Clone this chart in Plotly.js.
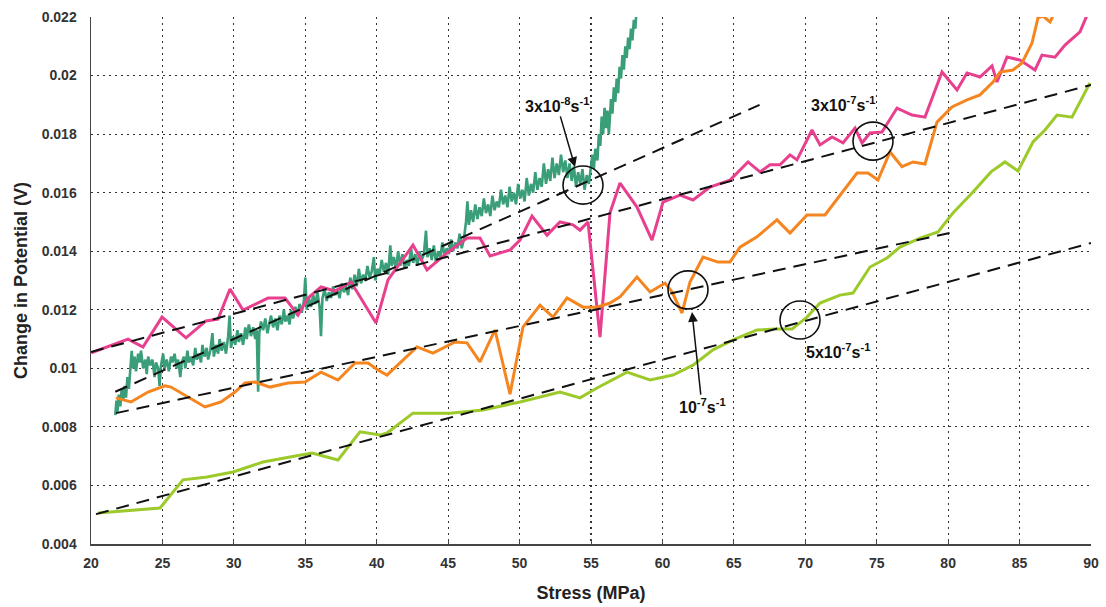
<!DOCTYPE html>
<html>
<head>
<meta charset="utf-8">
<script src="https://cdn.plot.ly/plotly-3.0.1.min.js"></script>
<style>html,body{margin:0;padding:0;background:#fff;}#chart{width:1106px;height:607px;}</style>
</head>
<body>
<div id="chart"></div>
<script>
// ---- data ----
const pinkX = [20.02,22.59,23.64,24.97,26.65,28.05,28.89,29.73,30.64,32.39,33.58,34.49,35.19,36.10,37.08,38.20,39.95,40.79,42.54,43.52,44.92,46.32,47.23,47.93,49.33,50.03,50.87,51.92,52.83,53.74,54.23,54.79,55.63,56.33,57.03,58.22,59.27,60.04,61.23,62.14,63.33,64.73,65.99,66.83,67.53,68.23,68.93,69.42,70.47,71.03,71.87,72.64,73.48,73.97,74.53,75.37,76.42,77.47,78.38,79.57,80.62,81.32,82.23,83.07,83.42,84.12,85.03,86.08,86.57,87.48,88.18,89.23,89.79];
const pinkY = [0.01053,0.01100,0.01073,0.01175,0.01104,0.01162,0.01168,0.01271,0.01199,0.01240,0.01240,0.01182,0.01240,0.01278,0.01264,0.01295,0.01155,0.01302,0.01421,0.01336,0.01394,0.01445,0.01445,0.01384,0.01404,0.01438,0.01520,0.01455,0.01500,0.01490,0.01472,0.01500,0.01107,0.01531,0.01633,0.01551,0.01438,0.01568,0.01592,0.01575,0.01619,0.01643,0.01705,0.01671,0.01695,0.01695,0.01729,0.01712,0.01814,0.01763,0.01790,0.01770,0.01821,0.01770,0.01804,0.01807,0.01889,0.01865,0.01858,0.02012,0.01951,0.02009,0.01995,0.02033,0.01978,0.02063,0.02053,0.02019,0.02070,0.02063,0.02104,0.02149,0.02214];

const orangeX = [21.75,22.80,23.99,25.18,25.60,26.79,27.98,29.10,30.08,30.78,31.48,32.53,33.79,34.98,36.10,37.29,38.48,39.39,40.09,40.72,41.63,42.82,43.94,45.48,46.32,47.23,48.28,49.33,50.24,51.43,52.34,53.32,54.44,55.42,56.33,57.03,58.22,59.13,60.18,60.67,61.37,61.93,62.84,63.89,64.73,65.43,66.62,68.02,68.93,70.12,71.38,72.57,73.62,74.39,75.09,75.93,76.77,77.54,78.38,79.22,80.27,81.32,82.23,83.14,83.63,84.54,85.17,85.87,86.29,86.64,87.13,87.48];
const orangeY = [0.00899,0.00885,0.00919,0.00940,0.00936,0.00902,0.00868,0.00885,0.00919,0.00950,0.00953,0.00936,0.00950,0.00953,0.00987,0.00960,0.01018,0.01018,0.00994,0.00977,0.01018,0.01073,0.01052,0.01090,0.01087,0.01022,0.01131,0.00912,0.01141,0.01216,0.01175,0.01240,0.01209,0.01209,0.01223,0.01244,0.01312,0.01261,0.01291,0.01261,0.01189,0.01295,0.01380,0.01363,0.01363,0.01414,0.01449,0.01507,0.01462,0.01524,0.01524,0.01602,0.01667,0.01667,0.01643,0.01739,0.01689,0.01705,0.01698,0.01841,0.01893,0.01917,0.01934,0.01978,0.02012,0.02019,0.02043,0.02111,0.02197,0.02203,0.02183,0.02217];

const limeX = [20.49,24.83,26.44,28.12,29.94,32.04,33.93,35.47,37.29,38.83,40.23,40.72,42.54,43.94,45.13,47.44,50.03,52.83,54.23,55.42,57.52,59.13,60.74,62.14,63.54,64.94,66.62,67.88,69.07,70.12,71.03,72.43,73.34,74.53,75.72,76.63,78.03,79.29,80.34,81.74,83.00,83.98,84.89,85.94,86.78,87.62,88.67,89.93];
const limeY = [0.00506,0.00523,0.00619,0.00629,0.00646,0.00680,0.00697,0.00711,0.00687,0.00783,0.00772,0.00779,0.00847,0.00847,0.00847,0.00858,0.00885,0.00919,0.00899,0.00933,0.00987,0.00960,0.00977,0.01011,0.01063,0.01097,0.01131,0.01134,0.01134,0.01175,0.01223,0.01250,0.01257,0.01346,0.01377,0.01414,0.01445,0.01466,0.01531,0.01602,0.01671,0.01705,0.01674,0.01773,0.01814,0.01865,0.01858,0.01975];

const greenPts = [[21.7,.0084],[21.78,.0089],[21.85,.0085],[21.95,.0091],[22.05,.0087],[22.15,.0093],[22.25,.0089],[22.35,.0094],[22.45,.0090],[22.55,.0097],[22.65,.0093],[22.75,.0101],[22.85,.0106],[22.95,.0100],[23.05,.0104],[23.15,.0099],[23.3,.0105],[23.4,.0102],[23.5,.0106],[23.65,.0100],[23.8,.0103],[23.9,.0098],[24.0,.0104],[24.15,.0101],[24.3,.0103],[24.45,.0097],[24.55,.0102],[24.7,.0100],[24.8,.0094],[24.9,.0101],[25.05,.0105],[25.15,.0100],[25.3,.0103],[25.45,.0099],[25.6,.0104],[25.7,.0102],[25.85,.0105],[26.0,.0100],[26.1,.0103],[26.25,.0097],[26.35,.0102],[26.5,.0104],[26.6,.0100],[26.75,.0106],[26.85,.0102],[27.0,.0104],[27.15,.0101],[27.3,.0107],[27.4,.0103],[27.55,.0105],[27.7,.0102],[27.8,.0108],[27.95,.0104],[28.1,.0107],[28.2,.0103],[28.35,.0106],[28.5,.0112],[28.6,.0104],[28.75,.0108],[28.9,.0105],[29.0,.0110],[29.15,.0106],[29.3,.0109],[29.45,.0105],[29.6,.0111],[29.7,.0118],[29.8,.0107],[29.95,.0111],[30.1,.0108],[30.25,.0113],[30.35,.0109],[30.5,.0112],[30.65,.0108],[30.8,.0114],[30.9,.0110],[31.05,.0115],[31.2,.0111],[31.35,.0114],[31.5,.0110],[31.6,.0113],[31.7,.0092],[31.78,.0112],[31.9,.0116],[32.05,.0113],[32.2,.0117],[32.35,.0112],[32.5,.0115],[32.6,.0118],[32.75,.0114],[32.9,.0117],[33.05,.0113],[33.2,.0118],[33.35,.0115],[33.5,.0120],[33.6,.0116],[33.75,.0118],[33.9,.0115],[34.0,.0120],[34.15,.0117],[34.3,.0121],[34.45,.0118],[34.6,.0122],[34.75,.0119],[34.9,.0123],[35.0,.0131],[35.1,.0120],[35.25,.0124],[35.4,.0121],[35.55,.0125],[35.7,.0122],[35.85,.0126],[36.0,.0121],[36.1,.0111],[36.2,.0124],[36.35,.0127],[36.5,.0123],[36.65,.0126],[36.8,.0124],[36.95,.0128],[37.1,.0125],[37.25,.0127],[37.4,.0124],[37.55,.0129],[37.7,.0126],[37.85,.0128],[38.0,.0125],[38.15,.0131],[38.3,.0127],[38.45,.0132],[38.6,.0128],[38.75,.0134],[38.9,.0129],[39.05,.0132],[39.2,.0130],[39.35,.0135],[39.5,.0131],[39.65,.0133],[39.8,.0138],[39.9,.0130],[40.05,.0134],[40.2,.0132],[40.35,.0137],[40.5,.0133],[40.65,.0136],[40.8,.0132],[40.95,.0142],[41.05,.0135],[41.2,.0138],[41.35,.0134],[41.5,.0140],[41.65,.0135],[41.8,.0139],[41.95,.0134],[42.1,.0137],[42.25,.0135],[42.4,.0141],[42.55,.0136],[42.7,.0139],[42.85,.0135],[43.0,.0140],[43.15,.0137],[43.3,.0139],[43.45,.0147],[43.55,.0138],[43.7,.0141],[43.85,.0137],[44.0,.0142],[44.15,.0136],[44.3,.0140],[44.45,.0138],[44.6,.0143],[44.75,.0138],[44.9,.0141],[45.05,.0139],[45.2,.0144],[45.35,.0140],[45.5,.0143],[45.65,.0141],[45.8,.0146],[45.95,.0141],[46.1,.0144],[46.25,.0150],[46.35,.0157],[46.45,.0149],[46.6,.0154],[46.75,.0150],[46.9,.0156],[47.05,.0151],[47.2,.0155],[47.35,.0152],[47.5,.0158],[47.65,.0153],[47.8,.0156],[47.95,.0152],[48.1,.0159],[48.25,.0154],[48.4,.0157],[48.55,.0155],[48.7,.0161],[48.85,.0156],[49.0,.0159],[49.15,.0155],[49.3,.0162],[49.45,.0157],[49.6,.0160],[49.75,.0156],[49.9,.0163],[50.05,.0158],[50.2,.0161],[50.35,.0157],[50.5,.0165],[50.65,.0159],[50.8,.0163],[50.95,.0160],[51.1,.0167],[51.25,.0161],[51.4,.0165],[51.55,.0162],[51.7,.0170],[51.85,.0163],[52.0,.0168],[52.15,.0164],[52.3,.0172],[52.45,.0165],[52.6,.0170],[52.75,.0166],[52.9,.0173],[53.05,.0167],[53.2,.0171],[53.35,.0165],[53.5,.0170],[53.65,.0164],[53.8,.0169],[53.95,.0162],[54.1,.0167],[54.25,.0163],[54.4,.0168],[54.55,.0161],[54.7,.0166],[54.85,.0163],[55.0,.0169],[55.1,.0173],[55.2,.0168],[55.3,.0175],[55.45,.0171],[55.55,.0180],[55.65,.0176],[55.75,.0186],[55.85,.0180],[55.95,.0189],[56.05,.0182],[56.15,.0188],[56.25,.0180],[56.4,.0192],[56.5,.0187],[56.6,.0196],[56.7,.0191],[56.8,.0199],[56.9,.0194],[57.0,.0203],[57.1,.0199],[57.2,.0207],[57.3,.0202],[57.4,.0210],[57.5,.0206],[57.6,.0213],[57.7,.0209],[57.8,.0216],[57.9,.0212],[58.0,.0219],[58.1,.0216],[58.2,.0223]];

// dashed linear fits (end points)
const fitGreenX = [21.7, 66.8],   fitGreenY = [0.0092, 0.0190];
const fitPinkX = [20.0, 90.0],    fitPinkY = [0.01056, 0.01968];
const fitOrangeX = [21.75, 80.1], fitOrangeY = [0.00847, 0.01462];
const fitLimeX = [20.35, 90.0],   fitLimeY = [0.00502, 0.01428];

// strain-rate labels and marked points
const rateLabels = ['3x10<sup>-8</sup>s<sup>-1</sup>', '3x10<sup>-7</sup>s<sup>-1</sup>', '10<sup>-7</sup>s<sup>-1</sup>', '5x10<sup>-7</sup>s<sup>-1</sup>'];
const circleX = [54.44, 74.74, 61.79, 69.63];
const circleY = [0.01626, 0.01776, 0.01268, 0.01165];

const xTicks = [20,25,30,35,40,45,50,55,60,65,70,75,80,85,90];
const yTicks = [0.004,0.006,0.008,0.010,0.012,0.014,0.016,0.018,0.020,0.022];
const yTickText = ['0.004','0.006','0.008','0.01','0.012','0.014','0.016','0.018','0.02','0.022'];

// ---- chart ----
const FONT = 'Arial, "Liberation Sans", sans-serif';
const lw = 3;
const traces = [
  {x: greenPts.map(p => p[0]), y: greenPts.map(p => p[1]), mode: 'lines', line: {color: '#3a9e78', width: 2.6}},
  {x: pinkX, y: pinkY, mode: 'lines', line: {color: '#e8408e', width: lw}},
  {x: orangeX, y: orangeY, mode: 'lines', line: {color: '#f5851f', width: lw}},
  {x: limeX, y: limeY, mode: 'lines', line: {color: '#9cca2b', width: lw}},
];
const dash = {color: '#111', width: 2, dash: '13px,8px'};
[[fitGreenX, fitGreenY], [fitPinkX, fitPinkY], [fitOrangeX, fitOrangeY], [fitLimeX, fitLimeY]].forEach(f => {
  traces.push({x: f[0], y: f[1], mode: 'lines', line: dash});
});

const rx = 1.4, ry = 0.00065;
const shapes = circleX.map((cx, i) => ({
  type: 'circle', xref: 'x', yref: 'y',
  x0: cx - rx, x1: cx + rx, y0: circleY[i] - ry, y1: circleY[i] + ry,
  line: {color: '#111', width: 1.6}
}));

const annFont = {family: FONT, size: 16, color: '#111', weight: 'bold'};
const annotations = [
  {x: 53.88, y: 0.01688, xref: 'x', yref: 'y', text: rateLabels[0], showarrow: true,
   ax: -18, ay: -62, arrowhead: 2, arrowsize: 1.3, arrowwidth: 1.5, arrowcolor: '#111', font: annFont},
  {x: 72.64, y: 0.01903, xref: 'x', yref: 'y', text: rateLabels[1], showarrow: false, font: annFont},
  {x: 62.07, y: 0.01192, xref: 'x', yref: 'y', text: rateLabels[2], showarrow: true,
   ax: 10, ay: 94, arrowhead: 2, arrowsize: 1.3, arrowwidth: 1.5, arrowcolor: '#111', font: annFont},
  {x: 72.29, y: 0.01059, xref: 'x', yref: 'y', text: rateLabels[3], showarrow: false, font: annFont},
];

const tickFont = {family: FONT, size: 14, color: '#333', weight: 'bold'};
const titleFont = {family: FONT, size: 18, color: '#222', weight: 'bold'};
const layout = {
  width: 1106, height: 607,
  margin: {l: 91, r: 15, t: 17, b: 63},
  paper_bgcolor: '#fff', plot_bgcolor: '#fff',
  showlegend: false,
  xaxis: {
    range: [20, 90], tickvals: xTicks, ticktext: xTicks.map(String),
    showgrid: true, gridcolor: '#333', griddash: '2px,4px', gridwidth: 1.2,
    zeroline: false, showline: true, linecolor: '#444', linewidth: 1.5,
    ticks: 'inside', ticklen: 5, tickcolor: '#444', tickwidth: 1,
    tickfont: tickFont, ticklabelstandoff: 6,
    title: {text: 'Stress (MPa)', font: titleFont, standoff: 16},
    automargin: false
  },
  yaxis: {
    range: [0.004, 0.022], tickvals: yTicks, ticktext: yTickText,
    showgrid: true, gridcolor: '#333', griddash: '2px,4px', gridwidth: 1.2,
    zeroline: false, showline: true, linecolor: '#444', linewidth: 1.5,
    ticks: '', tickfont: tickFont, ticklabelstandoff: 10,
    title: {text: 'Change in Potential (V)', font: titleFont, standoff: 9},
    automargin: false
  },
  shapes: shapes,
  annotations: annotations
};

Plotly.newPlot('chart', traces, layout, {displayModeBar: false, staticPlot: true});
</script>
</body>
</html>
